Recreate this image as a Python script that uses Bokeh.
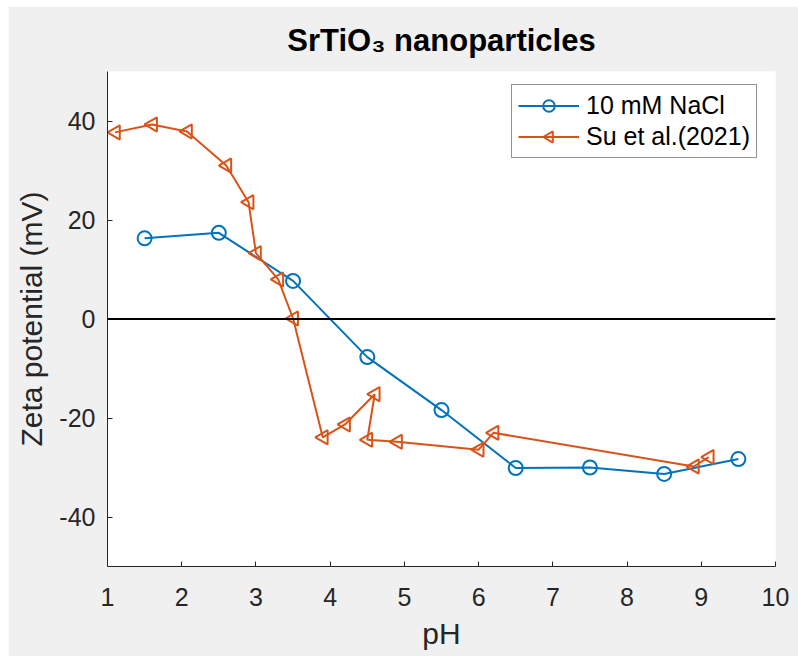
from bokeh.plotting import figure
from bokeh.models import (Span, Legend, LegendItem, Spacer, Range1d, FixedTicker, Title,
                          PrintfTickFormatter, CustomJS)
from bokeh.layouts import column, row
from bokeh.embed import file_html
from bokeh.resources import INLINE

# Data
ph_nacl = [1.5, 2.5, 3.5, 4.5, 5.5, 6.5, 7.5, 8.5, 9.5]
zeta_nacl = [16.3, 17.4, 7.7, -7.7, -18.4, -30.1, -30.0, -31.3, -28.3]

ph_su = [1.1, 1.6, 2.07, 2.6, 2.9, 3.0, 3.3, 3.5, 3.9, 4.2, 4.6, 4.5, 4.9, 6.0, 6.2, 8.9, 9.1]
zeta_su = [37.7, 39.3, 37.9, 31.0, 23.6, 13.3, 8.0, 0.1, -23.9, -21.3, -15.2, -24.4, -24.8,
           -26.4, -23.0, -29.8, -27.9]

x_ticks = [1, 2, 3, 4, 5, 6, 7, 8, 9, 10]
y_ticks = [-40, -20, 0, 20, 40]

series_labels = ["10 mM NaCl", "Su et al.(2021)"]
title_text = "SrTiO\u2083 nanoparticles"

BLUE = "#0072BD"
ORANGE = "#D95319"
AX = "#262626"
FONT = "Liberation Sans"

p = figure(width=790, height=650, output_backend="svg", toolbar_location=None,
           x_range=Range1d(1, 10), y_range=Range1d(-50, 50),
           min_border_left=99, min_border_right=23, min_border_top=65, min_border_bottom=90)
p.background_fill_color = "white"
p.border_fill_color = "#f0f0f0"
p.outline_line_color = None
p.grid.visible = False

p.title = Title(text=title_text, align="center",
                text_font=FONT, text_font_size="31px", text_font_style="bold",
                text_color="black", standoff=28)

for ax in (p.xaxis[0], p.yaxis[0]):
    ax.axis_line_color = AX
    ax.axis_line_width = 1
    ax.major_tick_line_color = AX
    ax.major_tick_in = 5
    ax.major_tick_out = 0
    ax.minor_tick_line_color = None
    ax.major_label_text_font = FONT
    ax.major_label_text_font_size = "25px"
    ax.major_label_text_color = AX
    ax.axis_label_text_font = FONT
    ax.axis_label_text_font_size = "30px"
    ax.axis_label_text_font_style = "normal"
    ax.axis_label_text_color = AX

p.xaxis.ticker = FixedTicker(ticks=x_ticks)
p.yaxis.ticker = FixedTicker(ticks=y_ticks)
p.xaxis.formatter = PrintfTickFormatter(format="%d")
p.yaxis.formatter = PrintfTickFormatter(format="%d")
p.xaxis.axis_label = "pH"
p.yaxis.axis_label = "Zeta potential (mV)"
p.xaxis.major_label_standoff = 21
p.yaxis.major_label_standoff = 12
p.xaxis.axis_label_standoff = 8
p.yaxis.axis_label_standoff = 8

p.add_layout(Span(location=0, dimension="width", line_color="black", line_width=2))

# left-pointing triangle marker (MATLAB '<')
tri_left_js = """
const d = cb_data
const ctx = d.ctx, i = d.i, r = d.r, visuals = d.visuals
ctx.moveTo(-r, 0)
ctx.lineTo(0.65*r, -0.95*r)
ctx.lineTo(0.65*r, 0.95*r)
ctx.closePath()
visuals.line.apply(ctx, i)
"""

l1 = p.line(ph_nacl, zeta_nacl, line_color=BLUE, line_width=2)
s1 = p.scatter(ph_nacl, zeta_nacl, marker="circle", size=14, line_color=BLUE,
               line_width=2, fill_color=None)
l2 = p.line(ph_su, zeta_su, line_color=ORANGE, line_width=2)
s2 = p.scatter(x=ph_su, y=zeta_su, marker="@tri_left", size=15, line_color=ORANGE,
               line_width=2, fill_color=None,
               defs={"@tri_left": CustomJS(code=tri_left_js)})

legend = Legend(items=[LegendItem(label=series_labels[0], renderers=[l1, s1]),
                       LegendItem(label=series_labels[1], renderers=[l2, s2])],
                location=(404, 408))
legend.label_text_font = FONT
legend.label_text_font_size = "25px"
legend.label_text_color = "black"
legend.glyph_width = 61
legend.glyph_height = 29
legend.label_height = 29
legend.label_standoff = 7
legend.padding = 6
legend.spacing = 2
legend.margin = 0
legend.border_line_color = AX
legend.border_line_width = 1
legend.background_fill_color = "white"
legend.background_fill_alpha = 1
p.add_layout(legend)

layout = column(Spacer(height=6), row(Spacer(width=8), p))
open("out.html", "w").write(file_html(layout, INLINE))
